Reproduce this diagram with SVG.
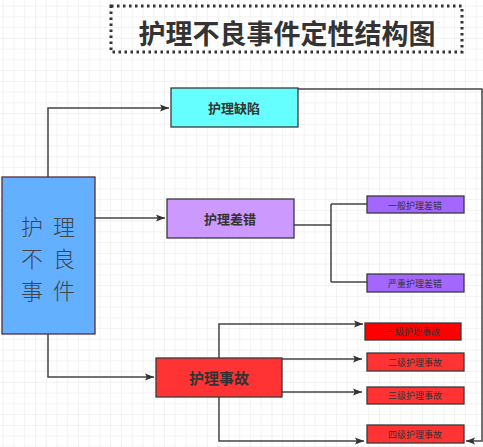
<svg xmlns="http://www.w3.org/2000/svg" width="483" height="447" viewBox="0 0 483 447">
<defs>
<pattern id="grid" x="2.7" y="5.6" width="10.75" height="10.75" patternUnits="userSpaceOnUse">
<path d="M0 0H10.75M0 0V10.75" fill="none" stroke="#e6e6e6" stroke-width="1"/>
</pattern>
<marker id="arr" viewBox="0 0 10 10" refX="10" refY="5" markerWidth="9" markerHeight="9" markerUnits="userSpaceOnUse" orient="auto">
<path d="M0 1L10 5L0 9L2 5Z" fill="#333"/>
</marker>
<style>
text{font-family:"Noto Sans CJK SC","Noto Sans",sans-serif;fill:#333;text-anchor:middle;dominant-baseline:central}
.box{stroke:#3a3a3a;stroke-width:1.3}
.lbl{font-size:13px;font-weight:bold}
.sm{font-size:9px}
.big{font-size:22px;letter-spacing:10px;fill:#444;font-weight:300}
.ln{fill:none;stroke:#444;stroke-width:1.5}
</style>
</defs>
<rect width="483" height="447" fill="#fff"/>
<rect width="483" height="447" fill="url(#grid)"/>

<g id="title">
<rect x="111" y="6" width="351" height="46" fill="none" stroke="#333" stroke-width="3" stroke-dasharray="2.5 3.5"/>
<text x="287" y="32" font-size="27" font-weight="bold">护理不良事件定性结构图</text>
</g>

<g id="connectors">
<path class="ln" d="M48 177V108H169" marker-end="url(#arr)"/>
<path class="ln" d="M95 218H165" marker-end="url(#arr)"/>
<path class="ln" d="M48 334V377H154" marker-end="url(#arr)"/>
<path class="ln" d="M294 225H331M331 204V282M331 204H367M331 282H367"/>
<path class="ln" d="M219 358V324H363" marker-end="url(#arr)"/>
<path class="ln" d="M282 359H362" marker-end="url(#arr)"/>
<path class="ln" d="M282 392H362" marker-end="url(#arr)"/>
<path class="ln" d="M219 397V441H364" marker-end="url(#arr)"/>
<path class="ln" d="M298 89H482V441H466" marker-end="url(#arr)"/>
</g>

<g id="n-main">
<rect x="2" y="177" width="93" height="157" fill="#62b0ff" stroke="#5a2a3a" stroke-width="1.3"/>
<text class="big" x="48" y="225" dx="5">护理</text>
<text class="big" x="48" y="257" dx="5">不良</text>
<text class="big" x="48" y="289" dx="5">事件</text>
</g>

<g id="n-quexian">
<rect class="box" x="171" y="88" width="127" height="39" fill="#66ffff"/>
<text class="lbl" x="234" y="107">护理缺陷</text>
</g>

<g id="n-chacuo">
<rect class="box" x="167" y="199" width="127" height="39" fill="#cc99ff"/>
<text class="lbl" x="230" y="218">护理差错</text>
</g>

<g id="n-shigu">
<rect class="box" x="156" y="358" width="126" height="39" fill="#ff3333"/>
<text x="219" y="377" font-size="15" font-weight="bold">护理事故</text>
</g>

<g id="n-yiban">
<rect class="box" x="367" y="196" width="97" height="17" fill="#a366ff"/>
<text class="sm" x="415" y="205">一般护理差错</text>
</g>

<g id="n-yanzhong">
<rect class="box" x="367" y="274" width="97" height="18" fill="#a366ff"/>
<text class="sm" x="415" y="283">严重护理差错</text>
</g>

<g id="n-yiji">
<rect class="box" x="365" y="323" width="96" height="17" fill="#ff0000"/>
<text class="sm" x="413" y="331.5">一级护理事故</text>
</g>

<g id="n-erji">
<rect class="box" x="367" y="353" width="97" height="18" fill="#ff3333"/>
<text class="sm" x="415" y="362">二级护理事故</text>
</g>

<g id="n-sanji">
<rect class="box" x="367" y="387" width="97" height="17" fill="#ff3333"/>
<text class="sm" x="415" y="395.5">三级护理事故</text>
</g>

<g id="n-siji">
<rect class="box" x="367" y="425" width="97" height="18" fill="#ff3333"/>
<text class="sm" x="415" y="434">四级护理事故</text>
</g>
</svg>
